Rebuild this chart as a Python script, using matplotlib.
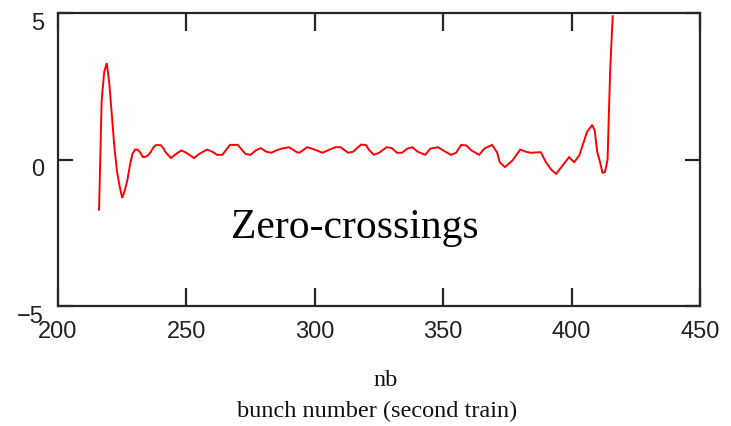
from __future__ import annotations

import matplotlib

matplotlib.use("Agg")
import matplotlib.pyplot as plt
import matplotlib.transforms as mtransforms


# bunch number (second train) and zero-crossing offset
BUNCH = [
    216, 217, 218, 219, 220, 221, 222, 223, 224, 225, 226, 227, 228, 229, 230,
    231, 232, 233, 234, 235, 236, 237, 238, 239, 240, 241, 242, 244, 246, 248,
    250, 253, 255, 258, 260, 262, 264, 267, 270, 273, 275, 277, 279, 281, 283,
    285, 287, 290, 293, 294, 297, 299, 303, 305, 308, 310, 313, 315, 318, 320,
    321, 323, 325, 328, 330, 332, 334, 336, 338, 340, 343, 345, 348, 350, 353,
    355, 357, 359, 361, 364, 366, 369, 371, 372, 374, 377, 380, 382, 384, 388,
    390, 392, 394, 396, 399, 401, 403, 406, 408, 409, 410, 411, 412, 413, 414,
    415, 416,
]
OFFSET = [
    -1.7, 2.0, 3.0, 3.3, 2.6, 1.5, 0.4, -0.4, -0.9, -1.3, -1.05, -0.7, -0.2, 0.2, 0.35,
    0.35, 0.25, 0.1, 0.1, 0.15, 0.25, 0.4, 0.5, 0.5, 0.5, 0.4, 0.25, 0.06, 0.2, 0.32,
    0.24, 0.06, 0.2, 0.35, 0.28, 0.17, 0.17, 0.51, 0.51, 0.2, 0.17, 0.32, 0.4, 0.28, 0.24,
    0.32, 0.38, 0.43, 0.26, 0.24, 0.43, 0.38, 0.24, 0.32, 0.43, 0.43, 0.24, 0.28, 0.52, 0.5,
    0.35, 0.17, 0.24, 0.43, 0.4, 0.24, 0.24, 0.38, 0.43, 0.28, 0.17, 0.38, 0.43, 0.32, 0.17,
    0.24, 0.51, 0.49, 0.32, 0.17, 0.38, 0.51, 0.25, -0.08, -0.25, -0.02, 0.35, 0.28, 0.24, 0.26,
    -0.08, -0.33, -0.48, -0.25, 0.09, -0.08, 0.15, 0.95, 1.19, 1.0, 0.26, -0.05, -0.44, -0.42, 0.0,
    3.0, 4.9,
]

X_TICKS = [200, 250, 300, 350, 400, 450]
Y_TICKS = [-5, 0, 5]
X_LIMITS = (200, 450)
Y_LIMITS = (-5, 5)

ANNOTATION = "Zero-crossings"
X_LABEL_TOP = "nb"
X_LABEL_BOTTOM = "bunch number (second train)"

TICK_FONT = "Liberation Sans"
TEXT_FONT = "Liberation Serif"
AXIS_COLOR = "#262626"


def main() -> None:
    fig = plt.figure(figsize=(7.31, 4.27), dpi=100)
    ax = fig.add_axes([0.0793, 0.2803, 0.8783, 0.6862])

    ax.plot(BUNCH, OFFSET, color="#ff0000", linewidth=1.4, solid_joinstyle="miter")

    ax.set_xlim(*X_LIMITS)
    ax.set_ylim(*Y_LIMITS)
    ax.set_xticks(X_TICKS)
    ax.set_yticks(Y_TICKS)

    for spine in ax.spines.values():
        spine.set_color(AXIS_COLOR)
        spine.set_linewidth(1.6)

    ax.tick_params(axis="x", direction="in", length=13, width=1.6, color=AXIS_COLOR,
                   top=True, pad=10, labelsize=17)
    ax.tick_params(axis="y", direction="in", length=11, width=1.6, color=AXIS_COLOR,
                   right=True, pad=10, labelsize=17)

    # Mathcad-style labels sit a little below their tick
    shift = mtransforms.ScaledTranslation(0, -5 / 72, fig.dpi_scale_trans)
    for label in ax.get_yticklabels():
        label.set_fontfamily(TICK_FONT)
        label.set_color("#222222")
        label.set_transform(label.get_transform() + shift)
    for label in ax.get_xticklabels():
        label.set_fontfamily(TICK_FONT)
        label.set_color("#222222")

    ax.text(315.5, -2.65, ANNOTATION, fontsize=30, family=TEXT_FONT,
            ha="center", va="baseline", color="black")

    fig.text(386 / 731, 1 - 381 / 427, X_LABEL_TOP, fontsize=17.5, family=TEXT_FONT,
             ha="center", va="center", color="#111111")
    fig.text(377 / 731, 1 - 411 / 427, X_LABEL_BOTTOM, fontsize=17.5, family=TEXT_FONT,
             ha="center", va="center", color="#111111")

    fig.savefig("out.png", dpi=100, facecolor="white")
    plt.close(fig)


if __name__ == "__main__":
    main()
